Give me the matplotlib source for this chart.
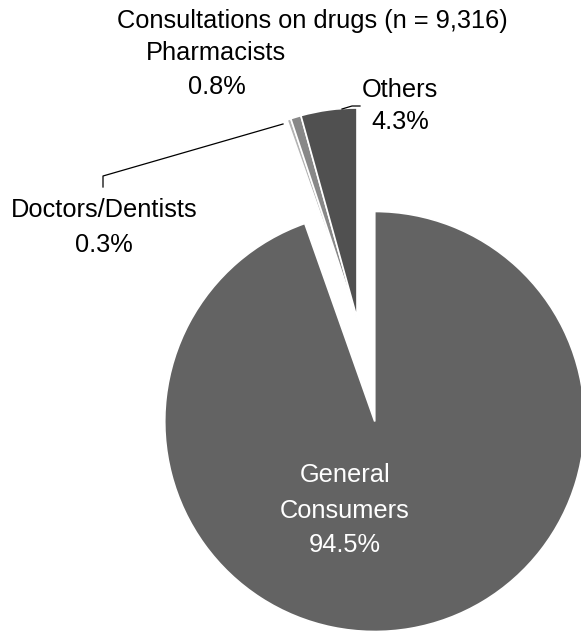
import matplotlib
matplotlib.use("Agg")
import matplotlib.pyplot as plt

plt.rcParams["font.family"] = ["Liberation Sans", "DejaVu Sans"]

labels = ["General Consumers", "Doctors/Dentists", "Pharmacists", "Others"]
shares = [94.5, 0.3, 0.8, 4.3]
colors = ["#636363", "#b4b4b4", "#888888", "#505050"]
title = "Consultations on drugs (n = 9,316)"

W, H = 581, 635
fig = plt.figure(figsize=(W / 100, H / 100), dpi=100)
ax = fig.add_axes([0, 0, 1, 1])

# pie drawn in pixel units (y upward); explode is an absolute offset
cx, cy, r = 357, H - 318, 210
explode = [0.5 * r, 0, 0, 0]
ax.pie(shares, colors=colors, explode=explode, startangle=90,
       counterclock=False, center=(cx, cy), radius=r,
       wedgeprops=dict(edgecolor="white", linewidth=1.2))
ax.set_xlim(0, W)
ax.set_ylim(0, H)
ax.set_aspect("equal")
ax.axis("off")

fs = 18.3
kw = dict(ha="center", va="baseline", fontsize=fs)
ax.text(508, H - 28, title, ha="right", va="baseline", fontsize=fs)
ax.text(216, H - 60, labels[2], **kw)
ax.text(217, H - 94, f"{shares[2]}%", **kw)
ax.text(400, H - 97, labels[3], **kw)
ax.text(400, H - 129, f"{shares[3]}%", **kw)
ax.text(104, H - 217, labels[1], **kw)
ax.text(104, H - 252, f"{shares[1]}%", **kw)
ax.text(345, H - 482, "General", color="white", **kw)
ax.text(345, H - 518, "Consumers", color="white", **kw)
ax.text(345, H - 552, f"{shares[0]}%", color="white", **kw)

# leader lines
ax.plot([103, 103, 283], [H - 187, H - 176, H - 124], color="black", lw=0.9)
ax.plot([342, 352, 360], [H - 109, H - 106, H - 106], color="black", lw=0.9)

fig.savefig("out.png", dpi=100)
